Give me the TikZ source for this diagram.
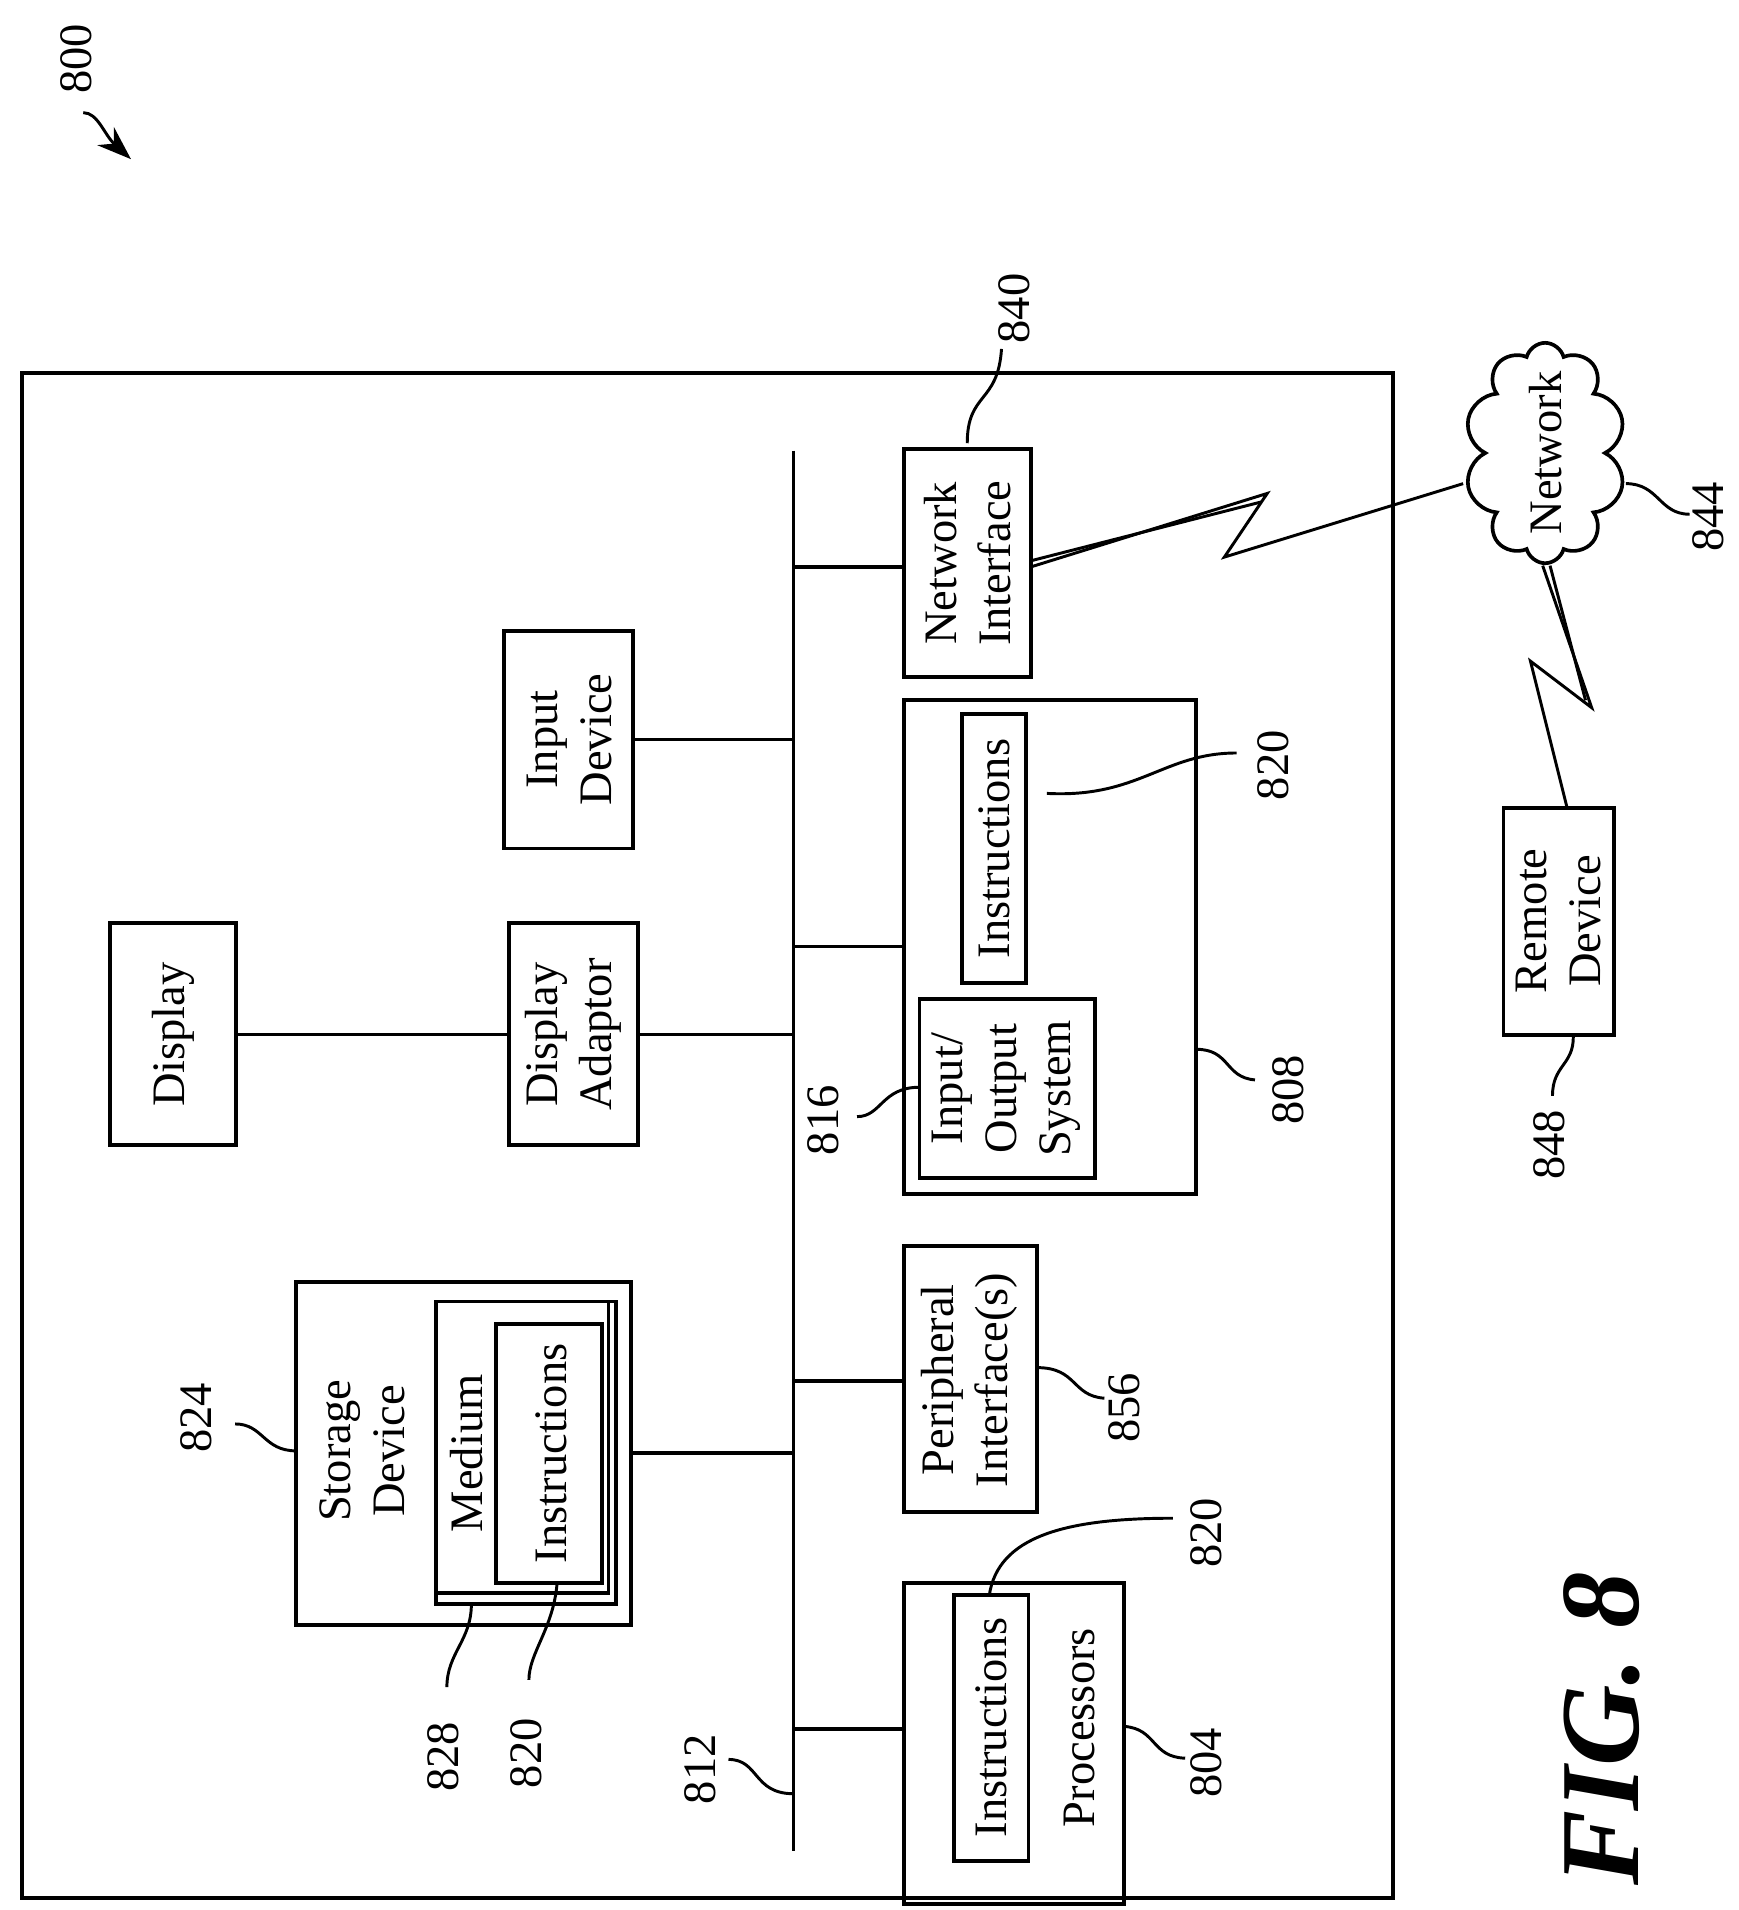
\documentclass[tikz,border=0pt]{standalone}
\usepackage{fontspec}
\setmainfont{Liberation Serif}
\usetikzlibrary{shapes.symbols,arrows.meta}
\begin{document}
\begin{tikzpicture}[x=0.5pt,y=-0.5pt,line width=1.5pt,
  box/.style={draw,line width=1.6pt},
  lbl/.style={rotate=90,font=\fontsize{19}{22}\selectfont,align=center,inner sep=0pt},
  num/.style={rotate=90,font=\fontsize{19}{22}\selectfont,inner sep=0pt},
  lead/.style={line width=1.2pt}]
\useasboundingbox (0,0) rectangle (1420,1560);
\draw[box] (18,305) rectangle (1138,1550);
\coordinate (bt) at (648,368); \coordinate (bb) at (648,1512);
\draw (bt) -- (bb);
% network interface
\draw[box] (738,367) rectangle (842,553);
\node[lbl] (ni) at (790,460) {Network\\Interface};
\draw (648,463) -- (738,463);
% input device
\draw[box] (412,515) rectangle (517,693);
\node[lbl] (id) at (465,604) {Input\\Device};
\draw (517,604) -- (648,604);
% display
\draw[box] (90,754) rectangle (193,935);
\node[lbl] (disp) at (142,845) {Display};
\draw[box] (416,754) rectangle (521,935);
\node[lbl] (da) at (468,845) {Display\\Adaptor};
\draw (193,845) -- (416,845);
\draw (521,845) -- (648,845);
% memory
\draw[box] (738,572) rectangle (977,975);
\draw[box] (786,583) rectangle (838,803);
\node[lbl] (mi) at (812,693) {Instructions};
\draw[box] (751,816) rectangle (894,962);
\node[lbl] (ios) at (822,889) {Input/\\Output\\System};
\draw (648,773) -- (738,773);
% peripheral
\draw[box] (738,1018) rectangle (847,1235);
\node[lbl] (pi) at (792,1127) {Peripheral\\Interface(s)};
\draw (648,1128) -- (738,1128);
% storage
\draw[box] (242,1047) rectangle (515,1327);
\node[lbl] (sd) at (296,1185) {Storage\\Device};
\draw[box] (356,1063) rectangle (503,1310);
\draw[box] (356,1063) -- (497,1063) -- (497,1301) -- (356,1301);
\node[lbl] (med) at (381,1187) {Medium};
\draw[box] (405,1081) rectangle (492,1293);
\node[lbl] (si) at (450,1187) {Instructions};
\draw (515,1187) -- (648,1187);
% processors
\draw[box] (738,1293) rectangle (918,1555);
\draw[box] (779,1303) rectangle (840,1520);
\node[lbl] (pin) at (810,1411) {Instructions};
\node[lbl] (proc) at (882,1411) {Processors};
\draw (648,1412) -- (738,1412);
% labels
\node[num] (n820a) at (1040,625) {820};
\draw[lead] (855,648) .. controls (930,652) and (950,615) .. (1010,615);
\node[num] (n808) at (1052,890) {808};
\draw[lead] (977,857) .. controls (1005,857) and (1000,880) .. (1025,882);
\node[num] (n816) at (672,915) {816};
\draw[lead] (700,912) .. controls (720,912) and (720,888) .. (751,888);
\node[num] (n856) at (918,1150) {856};
\draw[lead] (847,1117) .. controls (880,1117) and (875,1140) .. (902,1142);
\node[num] (n824) at (160,1158) {824};
\draw[lead] (192,1163) .. controls (215,1163) and (215,1185) .. (242,1185);
\node[num] (n828) at (362,1435) {828};
\draw[lead] (385,1310) .. controls (385,1340) and (365,1350) .. (365,1378);
\node[num] (n820b) at (430,1432) {820};
\draw[lead] (455,1293) .. controls (452,1330) and (432,1350) .. (432,1372);
\node[num] (n820c) at (985,1252) {820};
\draw[lead] (808,1303) .. controls (815,1255) and (870,1240) .. (958,1240);
\node[num] (n804) at (985,1440) {804};
\draw[lead] (918,1410) .. controls (945,1412) and (940,1435) .. (968,1436);
\node[num] (n812) at (572,1445) {812};
\draw[lead] (595,1437) .. controls (620,1437) and (615,1465) .. (648,1465);
\node[num] (n840) at (828,252) {840};
\draw[lead] (790,362) .. controls (790,320) and (815,330) .. (818,285);
% network cloud
\node[cloud,draw,line width=1.5pt,cloud puffs=10,minimum width=66pt,minimum height=90pt,inner sep=0pt] (cl) at (1262,370) {};
\node[lbl] (net) at (1262,370) {Network};
\node[num] (n844) at (1395,422) {844};
\draw[lead] (1328,395) .. controls (1355,395) and (1355,420) .. (1380,420);
% remote
\draw[box] (1228,660) rectangle (1318,845);
\node[lbl] (rd) at (1273,752) {Remote\\Device};
\node[num] (n848) at (1265,935) {848};
\draw[lead] (1285,847) .. controls (1285,870) and (1268,870) .. (1268,895);
% lightning
\draw[line width=1.2pt] (842,463) -- (1035,403) -- (1000,455) -- (1195,395);
\draw[line width=1.2pt] (842,458) -- (1030,410);
\draw[line width=1.2pt] (1260,462) -- (1300,578) -- (1250,540) -- (1280,660);
\draw[line width=1.2pt] (1266,462) -- (1295,572);
% 800
\node[num] (n800) at (62,48) {800};
\draw[lead,-{Stealth[length=14pt,width=10pt]}] (68,92) .. controls (80,92) and (85,110) .. (107,130);
% fig
\node[rotate=90,font=\fontsize{46}{46}\selectfont\bfseries\itshape,inner sep=0pt] (fig) at (1308,1412) {FIG. 8};
\end{tikzpicture}
\end{document}
